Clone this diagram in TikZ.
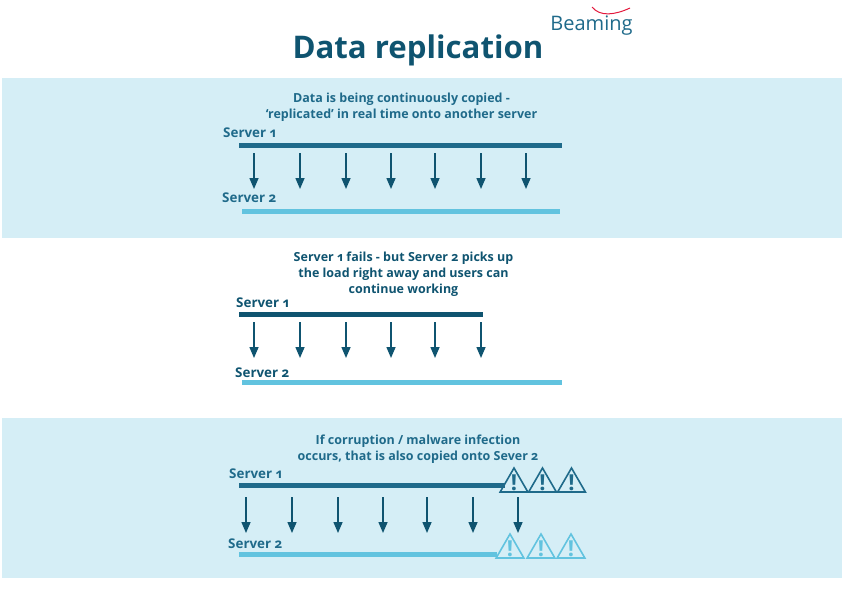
\documentclass[tikz,border=0pt]{standalone}
\usepackage{fontspec}
\setmainfont[Numbers=OldStyle]{Open Sans}
\usepackage{xcolor}
\usetikzlibrary{arrows.meta,positioning,shapes.geometric}
\definecolor{BBand}{HTML}{D5EEF6}
\definecolor{BDark}{HTML}{0F5470}
\definecolor{BMid}{HTML}{1F6A8A}
\definecolor{BLight}{HTML}{62C3DF}
\definecolor{BRed}{HTML}{E3183C}

\begin{document}
\begin{tikzpicture}[
  x=1pt,y=-1pt,
  band/.style={fill=BBand,draw=none,minimum width=840pt,minimum height=160pt,
    inner sep=0pt,outer sep=0pt,anchor=north west},
  txt/.style={align=center,font=\fontsize{12.5}{15.8}\selectfont\bfseries,text=BDark,inner sep=0pt},
  srv/.style={anchor=west,font=\fontsize{13.4}{15}\selectfont\bfseries,text=BDark,inner sep=0pt},
  bar/.style={anchor=west,minimum height=5pt,inner sep=0pt,outer sep=0pt},
  a/.style={-{Triangle[length=11pt,width=9pt]},line width=1.5pt,color=BDark},
  warn/.style={regular polygon,regular polygon sides=3,draw=#1,line width=1.6pt,
    minimum size=32pt,inner sep=0pt,outer sep=0pt,text=#1,
    font=\fontsize{22}{22}\selectfont\bfseries}
]
  \useasboundingbox (0,0) rectangle (842,595);
  \node[band] (b1) at (2,78) {};
  \node[band] (b3) at (2,418) {};

  \node[anchor=center,inner sep=0pt,font=\fontsize{31.2}{36}\selectfont\bfseries,text=BDark] (title) at (418,50.5) {Data replication};
  \node[anchor=center,inner sep=0pt,font=\fontsize{20}{24}\selectfont,text=BMid] (logo) at (591.5,26) {Beaming};
  \coordinate (s1) at (592,7);
  \coordinate (s2) at (630,8);
  \draw[BRed,line width=1pt] (s1) .. controls (600,17) and (615,15) .. (s2);

  % first band
  \node[txt,text=BMid] (c1) at (401.5,107.5) {Data is being continuously copied -\\`replicated' in real time onto another server};
  \node[srv,text=BMid] (l11) at (223,132.5) {Server 1};
  \node[srv,text=BMid] (l12) at (222,197.5) {Server 2};
  \node[bar,fill=BMid,minimum width=323pt] (m11) at (239,145.5) {};
  \node[bar,fill=BLight,minimum width=318pt] (m12) at (242,211) {};
  \foreach \x [count=\i] in {254,300,346,391,435,481,526}
    {\coordinate (p\i) at (\x,153);
     \coordinate (q\i) at (\x,189);
     \draw[a] (p\i) -- (q\i);}

  % second band
  \node[txt] (c2) at (403.5,274) {Server 1 fails - but Server 2 picks up\\the load right away and users can\\continue working};
  \node[srv] (l21) at (236,302.5) {Server 1};
  \node[srv] (l22) at (235,372.5) {Server 2};
  \node[bar,fill=BDark,minimum width=244pt] (m21) at (239,314) {};
  \node[bar,fill=BLight,minimum width=320pt] (m22) at (242,382.5) {};
  \foreach \x [count=\i] in {254,300,346,391,435,481}
    {\coordinate (p\i) at (\x,322);
     \coordinate (q\i) at (\x,358);
     \draw[a] (p\i) -- (q\i);}

  % third band
  \node[txt,text=BMid] (c3) at (418,449.5) {If corruption / malware infection\\occurs, that is also copied onto Sever 2};
  \node[srv,text=BMid] (l31) at (229,473.5) {Server 1};
  \node[srv,text=BMid] (l32) at (228,543.5) {Server 2};
  \node[bar,fill=BMid,minimum width=266pt] (m31) at (239,485) {};
  \node[bar,fill=BLight,minimum width=258pt] (m32) at (239,554.5) {};
  \foreach \x [count=\i] in {246,292,338,383,427,473,518}
    {\coordinate (p\i) at (\x,497);
     \coordinate (q\i) at (\x,533);
     \draw[a] (p\i) -- (q\i);}
  \foreach \x [count=\i] in {514,542.5,571.5}
    {\node[warn=BMid] (u\i) at (\x,484) {\makebox[0pt]{\smash{\raisebox{-6pt}{!}}}};}
  \foreach \x [count=\i] in {510,541,571}
    {\node[warn=BLight] (v\i) at (\x,550) {\makebox[0pt]{\smash{\raisebox{-6pt}{!}}}};}
\end{tikzpicture}
\end{document}
